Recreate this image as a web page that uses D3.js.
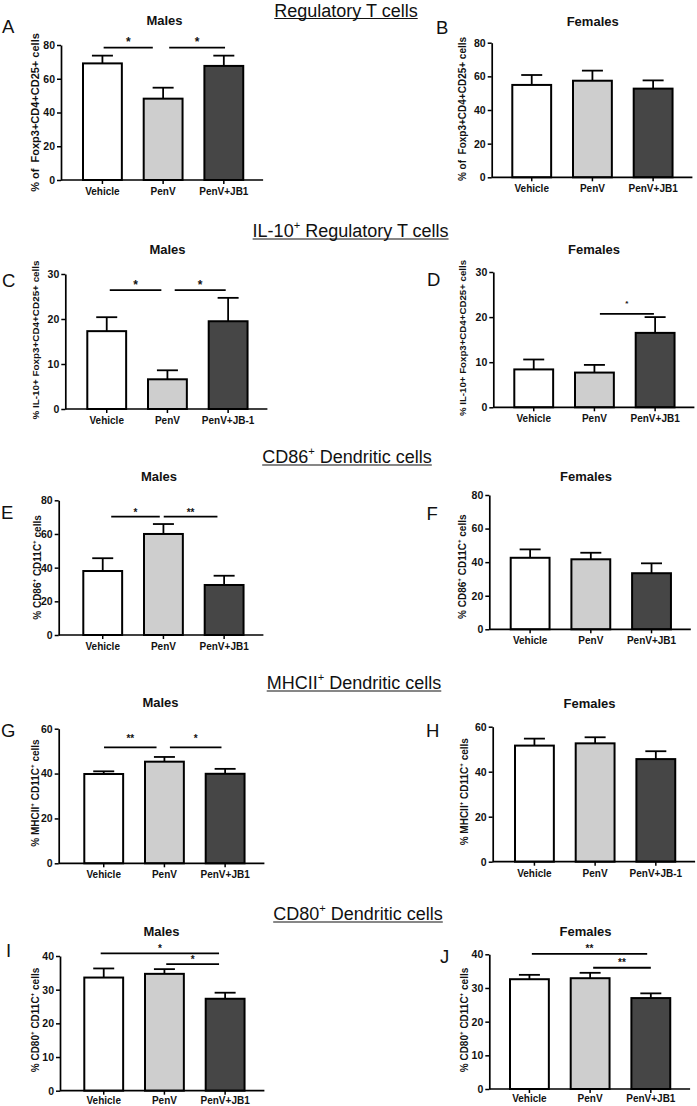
<!DOCTYPE html>
<html><head><meta charset="utf-8">
<script src="https://cdn.jsdelivr.net/npm/d3@7"></script>
<style>
body{margin:0;background:#fff}
svg{display:block}
text{font-family:Arial,"Liberation Sans",sans-serif;fill:#111}
</style>
</head><body>
<svg id="chart" width="697" height="1106"></svg>
<script>
// ---------------- DATA ----------------
const catsA = ["Vehicle", "PenV", "PenV+JB1"];
const catsDash = ["Vehicle", "PenV", "PenV+JB-1"];

const meansA = [69.1, 48.2, 67.6], errA = [4.6, 6.5, 6.1];
const meansB = [54.9, 57.4, 52.7], errB = [5.9, 6.0, 4.9];
const meansC = [17.3, 6.6, 19.5], errC = [3.1, 2.0, 5.2];
const meansD = [8.4, 7.7, 16.5], errD = [2.2, 1.7, 3.5];
const meansE = [38.0, 60.0, 29.7], errE = [7.6, 5.9, 5.5];
const meansF = [42.6, 41.7, 33.4], errF = [5.0, 3.9, 5.9];
const meansG = [39.8, 45.3, 39.9], errG = [1.2, 2.1, 2.2];
const meansH = [51.6, 52.6, 45.6], errH = [3.1, 2.7, 3.5];
const meansI = [33.6, 34.7, 27.3], errI = [2.7, 1.4, 1.8];
const meansJ = [32.6, 32.9, 27.0], errJ = [1.3, 1.6, 1.4];

// significance: [from (category position), to, y value, label]
const sigA = [[0.02, 0.83, 78.4, "*"], [1.10, 2.02, 78.4, "*"]];
const sigB = [];
const sigC = [[0.05, 0.90, 26.4, "*"], [1.12, 1.96, 26.4, "*"]];
const sigD = [[1.09, 1.98, 20.7, "*"]];
const sigE = [[0.14, 0.94, 70.3, "*"], [1.005, 1.89, 70.3, "**"]];
const sigF = [];
const sigG = [[0.005, 0.87, 51.7, "**"], [1.09, 1.94, 51.7, "*"]];
const sigH = [];
const sigI = [[-0.05, 1.90, 40.8, "*"], [1.03, 1.90, 37.6, "*"]];
const sigJ = [[0.04, 1.94, 40.1, "**"], [1.05, 2.00, 36.0, "**"]];

const yMax = [80, 80, 30, 30, 80, 80, 60, 60, 40, 40];
const yStep = [20, 20, 10, 10, 20, 20, 20, 20, 10, 10];

const sectionTitles = [
  [["Regulatory T cells"]],
  [["IL-10"], ["+", 1], [" Regulatory T cells"]],
  [["CD86"], ["+", 1], [" Dendritic cells"]],
  [["MHCII"], ["+", 1], [" Dendritic cells"]],
  [["CD80"], ["+", 1], [" Dendritic cells"]]
];
const yLabelA = [["% of  Foxp3+CD4+CD25+ cells"]];
const yLabelC = [["% IL-10+ Foxp3+CD4+CD25+ cells"]];
const yLabelE = [["% CD86"], ["+", 1], [" CD11C"], ["+", 1], [" cells"]];
const yLabelG = [["% MHCII"], ["+", 1], [" CD11C"], ["+", 1], [" cells"]];
const yLabelI = [["% CD80"], ["+", 1], [" CD11C"], ["+", 1], [" cells"]];
const sexLabels = ["Males", "Females"];
const panelLetters = ["A", "B", "C", "D", "E", "F", "G", "H", "I", "J"];
const barFills = ["#ffffff", "#cecece", "#464646"];

// ---------------- LAYOUT ----------------
const layout = [
  {axisX: 61, y0: 180, yTop: 45, barStart: 83, title: [164.5, 25], letter: [2, 33], ylab: [35, 112.5, 11], starFs: 12, starGap: 1.5},
  {axisX: 491.7, y0: 177.3, yTop: 42.7, barStart: 512.3, title: [592.7, 25.5], letter: [436, 33.5], ylab: [461.7, 109, 10]},
  {axisX: 65.3, y0: 409, yTop: 274, barStart: 87.3, title: [167.5, 254], letter: [2, 286.5], ylab: [34.7, 340, 9.9], starFs: 12, starGap: 1.5},
  {axisX: 493.3, y0: 407.3, yTop: 272, barStart: 514.3, title: [594, 254], letter: [427, 285.5], ylab: [462, 338, 9.7], starFs: 8, starGap: 7.5},
  {axisX: 58.7, y0: 635, yTop: 500.3, barStart: 83.3, title: [159, 480.5], letter: [1, 518.5], ylab: [36.7, 567.5, 10], starFs: 10, starGap: 1},
  {axisX: 489.3, y0: 629.3, yTop: 495, barStart: 510.7, title: [586, 481], letter: [426.5, 519.5], ylab: [462, 566.7, 10]},
  {axisX: 58.7, y0: 863.3, yTop: 728.7, barStart: 84.3, title: [160.5, 707], letter: [1, 736.5], ylab: [35, 793, 10], starFs: 10, starGap: 5.5},
  {axisX: 492.7, y0: 861.7, yTop: 726.7, barStart: 515, title: [589.5, 708], letter: [426, 736.5], ylab: [464, 791.7, 10]},
  {axisX: 60, y0: 1090.7, yTop: 956, barStart: 84.3, title: [161.5, 935.5], letter: [6, 956.5], ylab: [35.3, 1020, 10], starFs: 10, starGap: 1},
  {axisX: 489.3, y0: 1089, yTop: 954.3, barStart: 510, title: [585.5, 935.5], letter: [440, 963], ylab: [464, 1020, 10], starFs: 10, starGap: 1.5}
];
const titlePos = [[346, 16.5], [350.6, 237], [347, 463], [354, 689], [358, 920]];

const panelData = [
  {cats: catsA, means: meansA, err: errA, sig: sigA, ylab: yLabelA},
  {cats: catsA, means: meansB, err: errB, sig: sigB, ylab: yLabelA},
  {cats: catsDash, means: meansC, err: errC, sig: sigC, ylab: yLabelC},
  {cats: catsA, means: meansD, err: errD, sig: sigD, ylab: yLabelC},
  {cats: catsA, means: meansE, err: errE, sig: sigE, ylab: yLabelE},
  {cats: catsA, means: meansF, err: errF, sig: sigF, ylab: yLabelE},
  {cats: catsA, means: meansG, err: errG, sig: sigG, ylab: yLabelG},
  {cats: catsDash, means: meansH, err: errH, sig: sigH, ylab: yLabelG},
  {cats: catsA, means: meansI, err: errI, sig: sigI, ylab: yLabelI},
  {cats: catsA, means: meansJ, err: errJ, sig: sigJ, ylab: yLabelI}
];

// ---------------- DRAW ----------------
const svg = d3.select("#chart");

function richText(sel, segs, fs) {
  let shifted = false;
  sel.style("white-space", "pre");
  segs.forEach(s => {
    const t = sel.append("tspan").text(s[0]);
    if (s[1]) {
      t.attr("font-size", fs * 0.62).attr("dy", -fs * 0.42);
      shifted = true;
    } else {
      t.attr("font-size", fs);
      if (shifted) { t.attr("dy", fs * 0.42); shifted = false; }
    }
  });
}

sectionTitles.forEach((segs, i) => {
  const t = svg.append("text")
    .attr("x", titlePos[i][0]).attr("y", titlePos[i][1])
    .attr("text-anchor", "middle");
  richText(t, segs, 18);
  const bb = t.node().getBBox();
  svg.append("line")
    .attr("x1", bb.x).attr("x2", bb.x + bb.width)
    .attr("y1", titlePos[i][1] + 2).attr("y2", titlePos[i][1] + 2)
    .attr("stroke", "#111").attr("stroke-width", 1.2);
});

panelData.forEach((p, i) => {
  const L = layout[i];
  const g = svg.append("g");
  const y = d3.scaleLinear().domain([0, yMax[i]]).range([L.y0, L.yTop]);
  const pad = 0.36, stepPx = 60.7;
  const x0 = L.barStart - pad * stepPx;
  const x1 = x0 + stepPx * (3 - pad + 2 * pad);
  const x = d3.scaleBand().domain(p.cats).range([x0, x1]).paddingInner(pad).paddingOuter(pad);
  const bw = x.bandwidth();
  const cpos = t => x(p.cats[0]) + bw / 2 + t * x.step();

  // bars
  g.selectAll("rect.bar").data(p.means).join("rect")
    .attr("x", (d, j) => x(p.cats[j]))
    .attr("y", d => y(d))
    .attr("width", bw)
    .attr("height", d => y(0) - y(d))
    .attr("fill", (d, j) => barFills[j])
    .attr("stroke", "#000").attr("stroke-width", 2);

  // error bars
  p.means.forEach((m, j) => {
    const cx = x(p.cats[j]) + bw / 2;
    g.append("line").attr("x1", cx).attr("x2", cx)
      .attr("y1", y(m)).attr("y2", y(m + p.err[j]))
      .attr("stroke", "#000").attr("stroke-width", 1.8);
    g.append("line").attr("x1", cx - 10.5).attr("x2", cx + 10.5)
      .attr("y1", y(m + p.err[j])).attr("y2", y(m + p.err[j]))
      .attr("stroke", "#000").attr("stroke-width", 1.8);
  });

  // y axis
  const ya = g.append("g").attr("transform", `translate(${L.axisX},0)`)
    .call(d3.axisLeft(y).tickValues(d3.range(0, yMax[i] + 0.1, yStep[i])).tickSize(4).tickPadding(2).tickSizeOuter(0));
  ya.select(".domain").attr("stroke-width", 1.7);
  ya.selectAll(".tick line").attr("stroke-width", 1.5);
  ya.selectAll("text").attr("font-size", 10.5).attr("font-weight", "bold").attr("fill", "#111")
    .attr("font-family", "Arial, 'Liberation Sans', sans-serif");

  // x axis
  const xa = g.append("g").attr("transform", `translate(0,${L.y0})`)
    .call(d3.axisBottom(x).tickSize(4).tickPadding(i >= 8 ? 2 : 4).tickSizeOuter(0));
  xa.select(".domain").remove();
  xa.selectAll(".tick line").attr("stroke-width", 1.5);
  xa.selectAll("text").attr("font-size", 10).attr("font-weight", "bold").attr("fill", "#111")
    .attr("font-family", "Arial, 'Liberation Sans', sans-serif");
  g.append("line").attr("x1", L.axisX).attr("x2", x1 - 2)
    .attr("y1", L.y0).attr("y2", L.y0).attr("stroke", "#000").attr("stroke-width", 1.7);

  // significance
  p.sig.forEach(s => {
    const xa1 = cpos(s[0]), xa2 = cpos(s[1]), yy = y(s[2]);
    g.append("line").attr("x1", xa1).attr("x2", xa2).attr("y1", yy).attr("y2", yy)
      .attr("stroke", "#000").attr("stroke-width", 1.8);
    g.append("text").attr("x", (xa1 + xa2) / 2).attr("y", yy - L.starGap)
      .attr("text-anchor", "middle").attr("font-weight", "bold")
      .attr("font-size", L.starFs).text(s[3]);
  });

  // subtitle
  g.append("text").attr("x", L.title[0]).attr("y", L.title[1])
    .attr("text-anchor", "middle").attr("font-weight", "bold").attr("font-size", 13)
    .text(sexLabels[i % 2]);

  // panel letter
  g.append("text").attr("x", L.letter[0]).attr("y", L.letter[1])
    .attr("font-size", 18.5).text(panelLetters[i]);

  // y label
  const yl = g.append("text")
    .attr("transform", `translate(${L.ylab[0]},${L.ylab[1]}) rotate(-90)`)
    .attr("text-anchor", "middle").attr("dominant-baseline", "central")
    .attr("font-weight", "bold");
  richText(yl, p.ylab, L.ylab[2]);
});
</script>
</body></html>
